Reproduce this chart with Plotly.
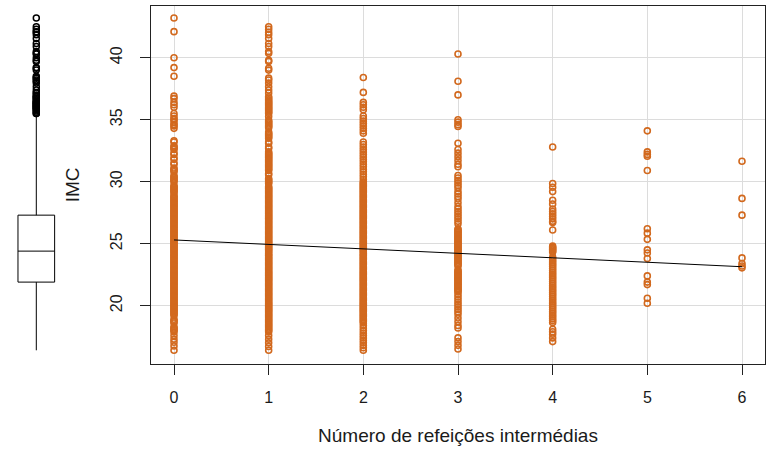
import plotly.graph_objects as go

# ---------------- data ----------------
meal_counts = [0, 1, 2, 3, 4, 5, 6]

imc_0 = [43.2, 42.1, 40.0, 39.2, 38.5,
         36.9, 36.7, 36.4, 36.2, 36.0,
         35.5, 35.3, 35.1, 35.0, 34.8, 34.6, 34.5, 34.3,
         33.3, 33.2, 32.9, 32.8, 32.7, 32.6, 32.3, 32.2, 31.9, 31.8, 31.5, 31.4,
         31.1, 31.0, 30.9, 30.8, 30.5, 30.4, 30.3, 30.2, 30.1, 30.0, 29.7,
         29.6, 29.5, 29.4, 29.3, 29.2, 29.1, 28.9, 28.8, 28.7, 28.6, 28.5, 28.4, 28.3, 28.2, 28.1, 28.0,
         27.9, 27.8, 27.7, 27.6, 27.5, 27.4, 27.3, 27.2, 27.1, 27.0,
         26.9, 26.8, 26.7, 26.6, 26.5, 26.4, 26.3, 26.2, 26.1, 26.0,
         25.9, 25.8, 25.7, 25.6, 25.5, 25.4, 25.3, 25.2, 25.1, 25.0,
         24.9, 24.8, 24.7, 24.6, 24.5, 24.4, 24.3, 24.2, 24.1, 24.0,
         23.9, 23.8, 23.7, 23.6, 23.5, 23.4, 23.3, 23.2, 23.1, 23.0,
         22.9, 22.8, 22.7, 22.6, 22.5, 22.4, 22.3, 22.2, 22.1, 22.0,
         21.9, 21.8, 21.7, 21.6, 21.5, 21.4, 21.3, 21.2, 21.1, 21.0,
         20.9, 20.8, 20.7, 20.6, 20.5, 20.4, 20.3, 20.2, 20.1, 20.0,
         19.9, 19.8, 19.7, 19.6, 19.5, 19.4, 19.3, 19.2, 18.9, 18.8, 18.7, 18.6,
         18.3, 18.2, 18.1, 18.0, 17.9,
         17.6, 17.3, 17.05, 16.75, 16.4]

imc_1 = [42.5, 42.3, 42.05, 41.85, 41.55, 41.15, 40.9, 40.5, 40.35, 39.8, 39.7,
         39.15, 39.0, 38.35, 38.2, 37.95, 37.65, 37.4, 37.15, 36.85, 36.75,
         36.6, 36.5, 36.4, 36.3, 36.2, 36.1, 36.0, 35.9, 35.8, 35.7, 35.6, 35.5,
         35.25, 34.95, 34.85, 34.75, 34.65, 34.55, 34.45, 34.35,
         34.0, 33.9, 33.8, 33.7, 33.6, 33.5, 33.2, 33.1, 32.8, 32.7,
         32.4, 32.3, 32.2, 32.1, 32.0, 31.9, 31.8, 31.7, 31.6, 31.5, 31.4, 31.3, 31.2, 31.1, 31.0, 30.9,
         30.65, 30.55, 30.25, 30.15, 30.05, 29.95, 29.85,
         29.6, 29.5, 29.4, 29.3, 29.2, 29.1, 29.0, 28.9, 28.8, 28.7, 28.6, 28.5, 28.4, 28.3, 28.2, 28.1, 28.0,
         27.9, 27.8, 27.7, 27.6, 27.5, 27.4, 27.3, 27.2, 27.1, 27.0,
         26.9, 26.8, 26.7, 26.6, 26.5, 26.4, 26.3, 26.2, 26.1, 26.0,
         25.9, 25.8, 25.7, 25.6, 25.5, 25.4, 25.3, 25.2, 25.1, 25.0,
         24.9, 24.8, 24.7, 24.6, 24.5, 24.4, 24.3, 24.2, 24.1, 24.0,
         23.9, 23.8, 23.7, 23.6, 23.5, 23.4, 23.3, 23.2, 23.1, 23.0,
         22.9, 22.8, 22.7, 22.6, 22.5, 22.4, 22.3, 22.2, 22.1, 22.0,
         21.9, 21.8, 21.7, 21.6, 21.5, 21.4, 21.3, 21.2, 21.1, 21.0,
         20.9, 20.8, 20.7, 20.6, 20.5, 20.4, 20.3, 20.2, 20.1, 20.0,
         19.9, 19.8, 19.7, 19.6, 19.5, 19.4, 19.3, 19.2, 19.1, 19.0,
         18.9, 18.8, 18.7, 18.6, 18.5, 18.4, 18.3, 18.2, 18.1, 18.0, 17.9,
         17.6, 17.3, 17.0, 16.7, 16.4]

imc_2 = [38.4, 37.2, 36.4, 36.2, 36.0, 35.8,
         35.3, 35.1, 34.9, 34.7, 34.5, 34.3, 34.1, 33.9,
         33.2, 33.0, 32.8, 32.6, 32.4, 32.2, 32.0, 31.8, 31.6, 31.4, 31.2, 31.0,
         30.8, 30.6, 30.4, 30.2,
         30.0, 29.9, 29.8, 29.7, 29.6, 29.5, 29.4, 29.3, 29.2, 29.1,
         29.0, 28.9, 28.8, 28.7, 28.6, 28.5, 28.4, 28.3, 28.2, 28.1,
         28.0, 27.9, 27.8, 27.7, 27.6, 27.5, 27.4, 27.3, 27.2, 27.1,
         27.0, 26.9, 26.8, 26.7, 26.6, 26.5, 26.4, 26.3, 26.2, 26.1,
         26.0, 25.9, 25.8, 25.7, 25.6, 25.5, 25.4, 25.3, 25.2, 25.1,
         25.0, 24.9, 24.8, 24.7, 24.6, 24.5, 24.4, 24.3, 24.2, 24.1,
         24.0, 23.9, 23.8, 23.7, 23.6, 23.5, 23.4, 23.3, 23.2, 23.1,
         23.0, 22.9, 22.8, 22.7, 22.6, 22.5, 22.4, 22.3, 22.2, 22.1,
         22.0, 21.9, 21.8, 21.7, 21.6, 21.5, 21.4, 21.3, 21.2, 21.1,
         21.0, 20.9, 20.8, 20.7, 20.6, 20.5, 20.4, 20.3, 20.2, 20.1,
         20.0, 19.9, 19.8, 19.7, 19.6, 19.5, 19.4, 19.3, 19.2, 19.1,
         19.0, 18.9, 18.8, 18.7, 18.6,
         18.4, 18.2, 18.0, 17.8, 17.6, 17.4, 17.2, 17.0, 16.8, 16.6, 16.4]

imc_3 = [40.3, 38.1, 37.0, 35.0, 34.8, 34.6, 34.45, 33.1,
         32.6, 32.3, 32.0, 31.7, 31.4, 31.2,
         30.5, 30.3, 30.1, 29.9, 29.7, 29.5, 29.2, 29.0, 28.8, 28.6, 28.3,
         28.0, 27.8, 27.6, 27.4, 27.2, 27.0, 26.8, 26.6,
         26.2, 26.1, 26.0, 25.9, 25.8, 25.7, 25.6, 25.5, 25.4, 25.3, 25.2, 25.1,
         25.0, 24.9, 24.8, 24.7, 24.6, 24.5, 24.4, 24.3, 24.2, 24.1,
         24.0, 23.9, 23.8, 23.7, 23.6, 23.5, 23.4, 23.3, 23.2, 22.9,
         22.8, 22.7, 22.6, 22.5, 22.4, 22.3, 22.2, 22.1, 22.0,
         21.9, 21.8, 21.7, 21.6, 21.5, 21.4, 21.3, 21.2, 21.1,
         20.9, 20.7, 20.5, 20.3, 20.1, 19.9, 19.7, 19.5, 19.3,
         19.0, 18.7, 18.4, 18.2,
         17.4, 17.1, 16.8, 16.5]

imc_4 = [32.8, 29.85, 29.55, 29.2, 28.5, 28.2,
         27.8, 27.6, 27.4, 27.2, 27.0, 26.8, 26.7, 26.1,
         24.8, 24.7, 24.6, 24.5, 24.4, 24.3,
         23.9, 23.75, 23.6, 23.45, 23.3, 23.15, 23.0, 22.85, 22.7, 22.55,
         22.4, 22.25, 22.1, 21.95, 21.8, 21.65, 21.5, 21.35, 21.2, 21.05,
         20.9, 20.75, 20.6, 20.45, 20.3, 20.15, 20.0, 19.85, 19.7, 19.55,
         19.4, 19.25, 19.1, 18.95, 18.8, 18.65,
         18.1, 17.9, 17.7, 17.4, 17.1]

imc_5 = [34.1, 32.4, 32.2, 32.05, 30.9, 26.2, 25.85, 25.35, 24.5, 24.25,
         23.8, 22.4, 21.9, 21.7, 20.6, 20.2]

imc_6 = [31.65, 28.65, 27.3, 23.85, 23.4, 23.2, 23.05]

imc_by_meals = [imc_0, imc_1, imc_2, imc_3, imc_4, imc_5, imc_6]

# fitted regression line  IMC = a + b * meals
reg_intercept = 25.3
reg_slope = -0.36

# marginal boxplot statistics of IMC
box_q1 = 21.9
box_median = 24.4
box_q3 = 27.3
box_lower = 16.4
box_upper = 35.35

x_tick_labels = ["0", "1", "2", "3", "4", "5", "6"]
y_tick_vals = [20, 25, 30, 35, 40]

# ---------------- figure ----------------
W, H = 767, 450
px = lambda v: v / W
py = lambda v: 1 - v / H

xs, ys = [], []
for k, vals in zip(meal_counts, imc_by_meals):
    xs += [k] * len(vals)
    ys += vals
outliers = [v for v in ys if v > box_upper]

orange = "#D2691E"
font_family = "Liberation Sans, Arial, sans-serif"
text_color = "#1a1a1a"

fig = go.Figure()

fig.add_trace(go.Scatter(
    x=xs, y=ys, mode="markers", xaxis="x", yaxis="y",
    marker=dict(symbol="circle-open", size=6, color=orange, line=dict(width=1.6, color=orange)),
    hoverinfo="x+y"))

reg_x = [meal_counts[0], meal_counts[-1]]
reg_y = [reg_intercept + reg_slope * v for v in reg_x]
fig.add_trace(go.Scatter(x=reg_x, y=reg_y, mode="lines", xaxis="x", yaxis="y",
                         line=dict(color="black", width=1)))

fig.add_trace(go.Box(
    x=[0], q1=[box_q1], median=[box_median], q3=[box_q3],
    lowerfence=[box_lower], upperfence=[box_upper],
    width=1.01, whiskerwidth=0, fillcolor="white", boxpoints=False,
    line=dict(color="black", width=1), xaxis="x2", yaxis="y2"))

fig.add_trace(go.Scatter(
    x=[0] * len(outliers), y=outliers, mode="markers", xaxis="x2", yaxis="y2",
    marker=dict(symbol="circle-open", size=6, color="black", line=dict(width=1.5, color="black"))))

y_range = [15.27, 44.21]
y_domain = [py(364.3), py(5.5)]

fig.update_layout(
    width=W, height=H,
    margin=dict(l=0, r=0, t=0, b=0),
    paper_bgcolor="white", plot_bgcolor="white",
    showlegend=False,
    font=dict(family=font_family, size=16, color=text_color),
    xaxis=dict(
        domain=[px(151), px(765)], range=[-0.243, 6.243],
        tickvals=meal_counts, ticktext=x_tick_labels,
        ticks="outside", ticklen=10, tickwidth=1, tickcolor="#222",
        ticklabelstandoff=8,
        showline=True, linecolor="#222", linewidth=1, mirror=True,
        showgrid=True, gridcolor="#DCDCDC", gridwidth=1, zeroline=False,
        title=dict(text="Número de refeições intermédias", standoff=24),
        automargin=False, anchor="y"),
    yaxis=dict(
        domain=y_domain, range=y_range,
        tickvals=y_tick_vals, tickangle=-90,
        ticks="outside", ticklen=10, tickwidth=1, tickcolor="#222",
        ticklabelstandoff=12,
        showline=True, linecolor="#222", linewidth=1, mirror=True,
        showgrid=True, gridcolor="#DCDCDC", gridwidth=1, zeroline=False,
        title=dict(text="IMC", standoff=22),
        automargin=False, anchor="x"),
    xaxis2=dict(domain=[0, px(72.6)], range=[-1, 1], visible=False, anchor="y2"),
    yaxis2=dict(domain=y_domain, range=y_range, visible=False, anchor="x2"),
)

fig.write_html("out.html",
               config={"displayModeBar": False},
               post_script="document.body.style.margin='0';document.body.style.overflow='hidden';")
